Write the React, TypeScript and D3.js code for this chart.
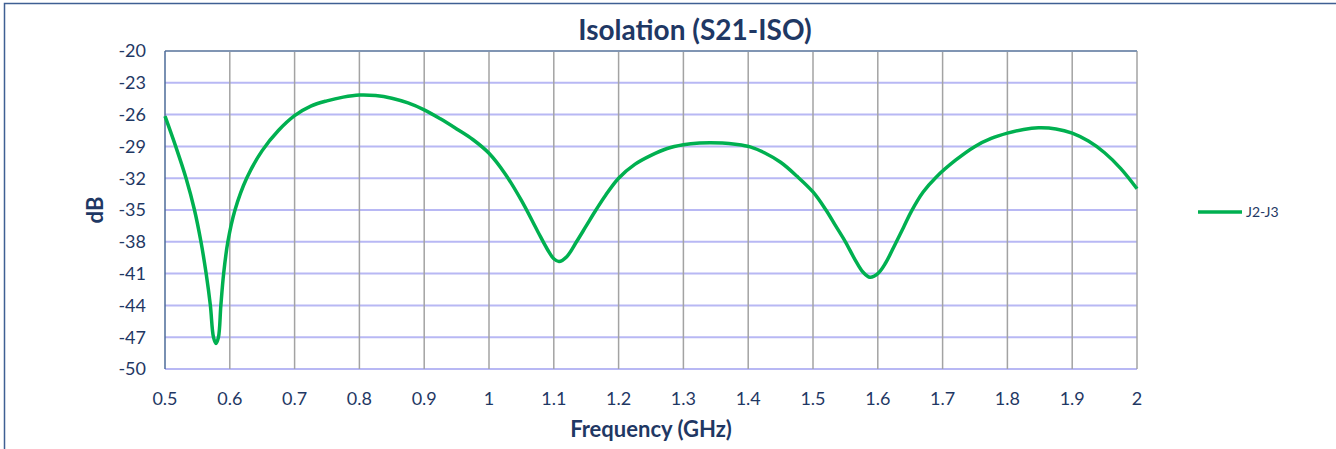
import React, { useEffect, useRef } from 'react';
import * as d3 from 'd3';

// frequency (GHz) and isolation (dB)
const freqs = [
  0.5, 0.5165, 0.5325, 0.5455, 0.5555, 0.5635, 0.57, 0.5748, 0.5787, 0.5825, 0.5862, 0.5905, 0.597, 0.608, 0.626,
  0.65, 0.675, 0.7, 0.725, 0.75, 0.775, 0.8, 0.825, 0.85, 0.875, 0.9, 0.925, 0.95, 0.975,
  1.0, 1.025, 1.05, 1.075, 1.09, 1.1, 1.108, 1.12, 1.135, 1.15, 1.165, 1.18,
  1.2, 1.225, 1.25, 1.275, 1.3, 1.325, 1.341, 1.36, 1.38, 1.403, 1.425, 1.45, 1.475,
  1.5, 1.52, 1.535, 1.55, 1.565, 1.577, 1.588, 1.6, 1.612, 1.627, 1.64, 1.652, 1.67, 1.69,
  1.72, 1.75, 1.775, 1.8, 1.825, 1.848, 1.875, 1.9, 1.925, 1.95, 1.975, 2.0,
];
const isolation = [
  -26.15, -29, -32, -35, -38, -41, -44, -47, -47.6, -47, -44, -41, -38, -35, -32,
  -29.4, -27.5, -26.1, -25.2, -24.7, -24.35, -24.15, -24.2, -24.45, -24.9, -25.55, -26.4, -27.35, -28.35,
  -29.65, -31.6, -34.1, -37.0, -38.7, -39.6, -39.85, -39.4, -38.0, -36.5, -35.0, -33.6,
  -32.0, -30.7, -29.85, -29.2, -28.85, -28.68, -28.65, -28.68, -28.8, -29.05, -29.6, -30.5, -31.8,
  -33.3, -35.0, -36.5, -38.0, -39.7, -40.85, -41.35, -41.0, -40.0, -38.2, -36.6, -35.1, -33.3, -31.9,
  -30.3, -29.0, -28.25, -27.75, -27.4, -27.25, -27.35, -27.75, -28.5, -29.6, -31.1, -33.0,
];
const xTicks = [0.5, 0.6, 0.7, 0.8, 0.9, 1, 1.1, 1.2, 1.3, 1.4, 1.5, 1.6, 1.7, 1.8, 1.9, 2];
const yTicks = [-20, -23, -26, -29, -32, -35, -38, -41, -44, -47, -50];
const seriesName = 'J2-J3';

const App = () => {
  const svgRef = useRef<SVGSVGElement>(null);

  useEffect(() => {
    const svg = d3.select(svgRef.current);
    svg.selectAll('*').remove();

    const W = 1336, H = 449;
    const left = 165, right = 1137, top = 51, bottom = 369;
    const font = 'Lato, "Open Sans", sans-serif';
    const textColor = '#1f3864';

    const x = d3.scaleLinear().domain([0.5, 2]).range([left, right]);
    const y = d3.scaleLinear().domain([-50, -20]).range([bottom, top]);

    svg.append('rect').attr('width', W).attr('height', H).attr('fill', 'white');

    // chart frame (clipped at right / bottom)
    svg.append('rect')
      .attr('x', 4.5).attr('y', 3.5)
      .attr('width', W + 10).attr('height', H + 10)
      .attr('fill', 'none')
      .attr('stroke', '#3f5f93')
      .attr('stroke-width', 1.5);

    // horizontal grid
    svg.append('g').selectAll('line')
      .data(yTicks.slice(1))
      .enter().append('line')
      .attr('x1', left).attr('x2', right)
      .attr('y1', d => y(d)).attr('y2', d => y(d))
      .attr('stroke', '#b8b8f4')
      .attr('stroke-width', 2);

    // vertical grid
    svg.append('g').selectAll('line')
      .data(xTicks.slice(1))
      .enter().append('line')
      .attr('x1', d => x(d)).attr('x2', d => x(d))
      .attr('y1', top).attr('y2', bottom)
      .attr('stroke', '#a3a3a3')
      .attr('stroke-width', 1.5);

    // top border and left axis
    svg.append('line')
      .attr('x1', left).attr('x2', right)
      .attr('y1', y(-20)).attr('y2', y(-20))
      .attr('stroke', '#8095b3').attr('stroke-width', 2);
    svg.append('line')
      .attr('x1', left).attr('x2', left)
      .attr('y1', top).attr('y2', bottom)
      .attr('stroke', '#4d6b98').attr('stroke-width', 1.5);

    // tick labels
    svg.append('g').selectAll('text')
      .data(yTicks)
      .enter().append('text')
      .attr('x', 146).attr('y', d => y(d))
      .attr('dy', '0.36em')
      .attr('text-anchor', 'end')
      .attr('fill', textColor)
      .style('font-family', font)
      .style('font-size', '18px')
      .text(d => d);

    svg.append('g').selectAll('text')
      .data(xTicks)
      .enter().append('text')
      .attr('x', d => x(d)).attr('y', 405)
      .attr('text-anchor', 'middle')
      .attr('fill', textColor)
      .style('font-family', font)
      .style('font-size', '18px')
      .text(d => d);

    // titles
    svg.append('text')
      .attr('x', 695).attr('y', 40)
      .attr('text-anchor', 'middle')
      .attr('fill', textColor)
      .style('font-family', font)
      .style('font-size', '28px')
      .style('font-weight', 'bold')
      .text('Isolation (S21-ISO)');

    svg.append('text')
      .attr('x', 651).attr('y', 437)
      .attr('text-anchor', 'middle')
      .attr('fill', textColor)
      .style('font-family', font)
      .style('font-size', '22px')
      .style('font-weight', 'bold')
      .text('Frequency (GHz)');

    svg.append('text')
      .attr('transform', `translate(103,${(top + bottom) / 2}) rotate(-90)`)
      .attr('text-anchor', 'middle')
      .attr('fill', textColor)
      .style('font-family', font)
      .style('font-size', '22px')
      .style('font-weight', 'bold')
      .text('dB');

    // series line
    const line = d3.line<number>()
      .x((d, i) => x(freqs[i]))
      .y(d => y(d))
      .curve(d3.curveCatmullRom.alpha(0.5));

    svg.append('path')
      .datum(isolation)
      .attr('fill', 'none')
      .attr('stroke', '#00b050')
      .attr('stroke-width', 3.5)
      .attr('stroke-linejoin', 'round')
      .attr('d', line);

    // legend
    svg.append('line')
      .attr('x1', 1198).attr('x2', 1242)
      .attr('y1', 212).attr('y2', 212)
      .attr('stroke', '#00b050').attr('stroke-width', 3.5);
    svg.append('text')
      .attr('x', 1246).attr('y', 212)
      .attr('dy', '0.36em')
      .attr('fill', textColor)
      .style('font-family', font)
      .style('font-size', '14px')
      .text(seriesName);
  }, []);

  return (
    <svg
      ref={svgRef}
      width={1336}
      height={449}
      style={{ position: 'absolute', left: 0, top: 0, display: 'block' }}
    />
  );
};

export default App;
